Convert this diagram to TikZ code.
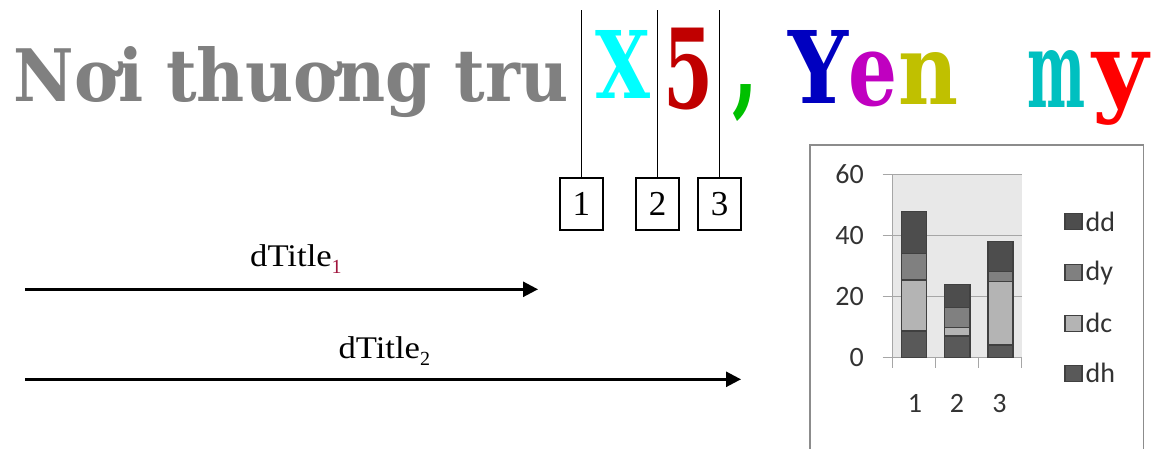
\documentclass[tikz,border=0pt]{standalone}
\usepackage{fontspec}
\setmainfont{Liberation Serif}
\newfontfamily\grungefont{DejaVu Serif}
\newfontfamily\chartfont{Carlito}
\usetikzlibrary{arrows.meta}
\definecolor{titlegray}{RGB}{128,128,128}
\definecolor{lcyan}{RGB}{0,255,255}
\definecolor{ldred}{RGB}{192,0,0}
\definecolor{lgreen}{RGB}{0,192,0}
\definecolor{lblue}{RGB}{0,0,192}
\definecolor{lmag}{RGB}{192,0,192}
\definecolor{lolive}{RGB}{192,192,0}
\definecolor{lteal}{RGB}{0,192,192}
\definecolor{lred}{RGB}{255,0,0}
\definecolor{subred}{RGB}{160,20,60}
\definecolor{plotbg}{RGB}{232,232,232}
\definecolor{gridgray}{RGB}{166,166,166}
\definecolor{framegray}{RGB}{140,140,140}
\definecolor{cdd}{RGB}{77,77,77}
\definecolor{cdy}{RGB}{128,128,128}
\definecolor{cdc}{RGB}{180,180,180}
\definecolor{cdh}{RGB}{89,89,89}
\definecolor{bardraw}{RGB}{64,64,64}
\newcommand\gl[3]{\resizebox*{#1pt}{#2pt}{\grungefont\bfseries #3}}
\begin{document}
\begin{tikzpicture}[x=1pt,y=-1pt,
  glyph/.style={anchor=north west,inner sep=0pt,outer sep=0pt},
  numbox/.style={draw,line width=2pt,minimum width=42.7pt,minimum height=51.7pt,inner sep=0pt,font=\fontsize{35}{35}\selectfont},
  vline/.style={line width=1.5pt},
  arr/.style={line width=2.6pt,-{Triangle[length=15pt,width=15pt]}},
  dlabel/.style={anchor=base west,inner sep=0pt},
  grid/.style={gridgray,line width=1.2pt},
  axis/.style={gridgray,line width=1.5pt},
  bar/.style={draw=bardraw,line width=1.5pt},
  ylab/.style={anchor=east,inner sep=0pt,font=\chartfont\fontsize{28}{28}\selectfont,text=black!80},
  leglab/.style={anchor=west,inner sep=0pt,font=\chartfont\fontsize{28}{28}\selectfont,text=black!80}]
\useasboundingbox (0,0) rectangle (1151,448);
\clip (0,0) rectangle (1151,448);
\fill[white] (0,0) rectangle (1151,448);
% title
\node[anchor=base west,inner sep=0pt,text=titlegray] (title) at (13.3,101.7)
  {\resizebox{555pt}{55pt}{\grungefont\bfseries Nơi thuơng tru}};
% coloured letters
\node[glyph,text=lcyan]  (lX) at (595,30)   {\gl{55}{68}{X}};
\node[glyph,text=ldred]  (l5) at (663,28.3) {\gl{50}{82}{5}};
\node[glyph,text=lgreen] (lc) at (732,85)   {\gl{26}{37}{,}};
\node[glyph,text=lblue]  (lY) at (788,30)   {\gl{60}{73}{Y}};
\node[glyph,text=lmag]   (le) at (848,51.7) {\gl{49}{55}{e}};
\node[glyph,text=lolive] (ln) at (898,52)   {\gl{60}{52}{n}};
\node[glyph,text=lteal]  (lm) at (1027,50)  {\gl{58}{57}{m}};
\node[glyph,text=lred]   (ly) at (1092,52)  {\gl{56}{73}{y}};
% numbered boxes and their lines
\node[numbox] (b1) at (581.4,204.2) {1};
\node[numbox] (b2) at (657.5,204.2) {2};
\node[numbox] (b3) at (719.7,204.2) {3};
\coordinate (t1) at (581.4,10);
\coordinate (t2) at (657.5,10);
\coordinate (t3) at (719.7,10);
\draw[vline] (t1) -- (b1.north);
\draw[vline] (t2) -- (b2.north);
\draw[vline] (t3) -- (b3.north);
% arrows
\coordinate (a1s) at (25,289.3);
\coordinate (a1e) at (538,289.3);
\coordinate (a2s) at (25,379.3);
\coordinate (a2e) at (741,379.3);
\draw[arr] (a1s) -- (a1e);
\draw[arr] (a2s) -- (a2e);
\node[dlabel] (d1) at (250,266.7) {\scalebox{1.1}[1]{\fontsize{31.5}{31.5}\selectfont dTitle}\raisebox{-6.7pt}{\fontsize{20}{20}\selectfont\color{subred}1}};
\node[dlabel] (d2) at (338.3,358.3) {\scalebox{1.1}[1]{\fontsize{31.5}{31.5}\selectfont dTitle}\raisebox{-6.7pt}{\fontsize{20}{20}\selectfont 2}};
% chart frame
\draw[framegray,line width=1.5pt] (810,145) rectangle (1143.3,470);
\begin{scope}[shift={(0,357.3)},y=3.05pt]
  \fill[plotbg] (892.7,0) rectangle (1021.7,60);
  \foreach \v in {20,40,60} \draw[grid] (882.7,\v) -- (1021.7,\v);
  \draw[axis] (892.7,60) -- (892.7,0);
  \draw[axis] (882.7,0) -- (1021.7,0);
  \foreach \x in {892.7,935.7,978.7,1021.7} \draw[axis] (\x,0) -- (\x,-3.6);
  % bar 1
  \draw[bar,fill=cdh] (901.7,0) rectangle (926.7,8.7);
  \draw[bar,fill=cdc] (901.7,8.7) rectangle (926.7,25.3);
  \draw[bar,fill=cdy] (901.7,25.3) rectangle (926.7,34.1);
  \draw[bar,fill=cdd] (901.7,34.1) rectangle (926.7,47.8);
  % bar 2
  \draw[bar,fill=cdh] (944.5,0) rectangle (970.2,7.0);
  \draw[bar,fill=cdc] (944.5,7.0) rectangle (970.2,9.7);
  \draw[bar,fill=cdy] (944.5,9.7) rectangle (970.2,16.3);
  \draw[bar,fill=cdd] (944.5,16.3) rectangle (970.2,23.9);
  % bar 3
  \draw[bar,fill=cdh] (988,0) rectangle (1013,4.0);
  \draw[bar,fill=cdc] (988,4.0) rectangle (1013,24.8);
  \draw[bar,fill=cdy] (988,24.8) rectangle (1013,28.1);
  \draw[bar,fill=cdd] (988,28.1) rectangle (1013,37.9);
  % axis labels
  \node[ylab] (y60) at (864,60) {60};
  \node[ylab] (y40) at (864,40) {40};
  \node[ylab] (y20) at (864,20) {20};
  \node[ylab] (y0)  at (864,0)  {0};
  \node[ylab,anchor=center] (x1) at (915,-15) {1};
  \node[ylab,anchor=center] (x2) at (957,-15) {2};
  \node[ylab,anchor=center] (x3) at (999.5,-15) {3};
\end{scope}
% legend
\draw[bar,fill=cdd] (1065,213.7) rectangle (1082,229.7);
\draw[bar,fill=cdy] (1065,264.7) rectangle (1082,280.7);
\draw[bar,fill=cdc] (1065,315.3) rectangle (1082,331.3);
\draw[bar,fill=cdh] (1065,365.3) rectangle (1082,381.3);
\node[leglab] (ldd) at (1085.5,221.7) {dd};
\node[leglab] (ldy) at (1085.5,272.7) {dy};
\node[leglab] (ldc) at (1085.5,323.3) {dc};
\node[leglab] (ldh) at (1085.5,373.3) {dh};
\end{tikzpicture}
\end{document}
